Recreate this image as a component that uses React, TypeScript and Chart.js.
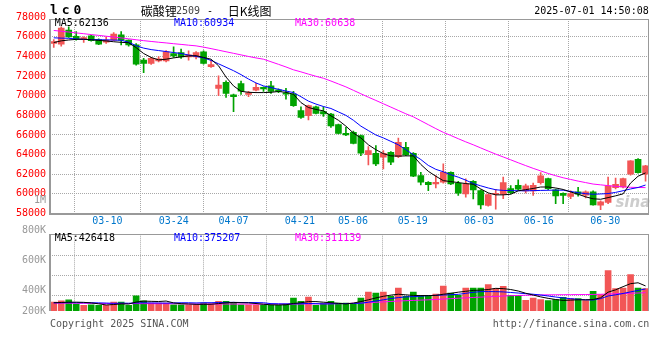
import { useEffect, useRef } from 'react';
import { Chart, registerables } from 'chart.js';

Chart.register(...registerables);

// ---------------- DATA ----------------
const dates = [
  '03-05','03-06','03-07','03-10','03-11','03-12','03-13','03-14','03-17','03-18',
  '03-19','03-20','03-21','03-24','03-25','03-26','03-27','03-28','03-31','04-01',
  '04-02','04-03','04-07','04-08','04-09','04-10','04-11','04-14','04-15','04-16',
  '04-17','04-18','04-21','04-22','04-23','04-24','04-25','04-28','04-29','04-30',
  '05-06','05-07','05-08','05-09','05-12','05-13','05-14','05-15','05-16','05-19',
  '05-20','05-21','05-22','05-23','05-26','05-27','05-28','05-29','05-30','06-03',
  '06-04','06-05','06-06','06-09','06-10','06-11','06-12','06-13','06-16','06-17',
  '06-18','06-19','06-20','06-23','06-24','06-25','06-26','06-27','06-30','07-01',
];

const opens = [
  75320, 75250, 76680, 76060, 75730, 76100, 75730, 75460, 75660, 76200,
  75660, 75180, 73620, 73280, 73550, 73550, 74300, 74400, 73960, 73960,
  74475, 72950, 70746, 71356, 70102, 71240, 70140, 70576, 70850, 71017,
  70610, 70305, 70169, 68475, 67966, 68881, 68373, 68136, 67050, 66169,
  66271, 65932, 63999, 64135, 63728, 64237, 63796, 64745, 64135, 61864,
  61186, 61016, 61186, 62203, 61084, 59999, 61287, 60338, 58813, 59965,
  59965, 60542, 60881, 60304, 60304, 61152, 61559, 60406, 60067, 59728,
  60203, 59864, 60203, 58847, 59118, 60644, 60712, 62000, 63525, 62000,
];
const highs = [
  75730, 77020, 77020, 76540, 76000, 76150, 75800, 76000, 76440, 76540,
  75700, 75320, 73800, 73900, 74000, 74600, 74980, 74740, 74570, 74500,
  74575, 73600, 72034, 71525, 70169, 71480, 70440, 71254, 70900, 71457,
  70700, 70746, 70441, 68881, 69050, 68950, 68881, 68200, 67100, 66780,
  66400, 66000, 64813, 64915, 64406, 64300, 65694, 65254, 64200, 62203,
  61250, 61864, 63050, 62250, 61287, 61525, 61350, 60400, 60000, 60474,
  61700, 60850, 61424, 61000, 61100, 62160, 61600, 60500, 60100, 60300,
  60678, 60300, 60300, 59300, 61700, 61600, 61600, 63400, 63600, 62900,
];
const lows = [
  74920, 75050, 75930, 75650, 75420, 75550, 75200, 75320, 75600, 75180,
  75050, 73110, 72360, 73200, 73450, 73450, 73900, 73800, 73620, 73750,
  73220, 72880, 70000, 69830, 68373, 70120, 69900, 70500, 70440, 70237,
  70300, 69661, 68900, 67695, 67525, 68150, 67898, 66780, 66100, 65932,
  65100, 63898, 62948, 62881, 62542, 62982, 63700, 63900, 61750, 60915,
  60338, 60610, 61100, 60950, 59830, 59660, 59491, 58474, 58750, 58440,
  59500, 60000, 60400, 60100, 59830, 61000, 60400, 59000, 59000, 59500,
  59762, 59600, 58850, 58400, 59000, 60500, 60600, 61900, 62100, 61300,
];
const closes = [
  75520, 76880, 76000, 75800, 75930, 75600, 75250, 75660, 76270, 75660,
  75180, 73210, 73280, 73820, 73750, 74470, 74060, 73960, 74160, 74400,
  73288, 73180, 71085, 70237, 69898, 70460, 70300, 70847, 70700, 70441,
  70441, 70169, 68983, 67797, 68983, 68203, 68136, 66915, 66169, 66000,
  65152, 64135, 64406, 63050, 64135, 63220, 65254, 63966, 61796, 61186,
  60949, 61186, 62203, 61016, 60067, 61016, 60406, 58881, 59931, 60033,
  61152, 60135, 60474, 60813, 60881, 61830, 60542, 59800, 59830, 60033,
  59965, 60203, 58881, 59186, 60813, 60983, 61559, 63356, 62169, 62847,
];

const ma5 = [
  75420, 75590, 75680, 75740, 75760, 75700, 75640, 75580, 75500, 75440,
  75400, 74900, 74300, 73900, 73650, 73720, 73850, 73960, 74050, 74080,
  73900, 73720, 73050, 71900, 71000, 70450, 70350, 70320, 70320, 70350,
  70430, 70350, 70150, 69300, 68800, 68600, 68460, 67950, 67500, 66900,
  66200, 65700, 65000, 64500, 64100, 63870, 63850, 63870, 63870, 63000,
  62300, 61800, 61350, 61250, 61150, 61050, 60980, 60500, 60100, 59900,
  59900, 59960, 60310, 60430, 60550, 60700, 60700, 60600, 60450, 60200,
  59960, 59700, 59500, 59450, 59620, 59800, 60000, 61100, 61800, 62136,
];
const ma10 = [
  75900, 75870, 75850, 75780, 75740, 75720, 75700, 75690, 75670, 75650,
  75450, 75100, 74850, 74700, 74600, 74500, 74400, 74300, 74150, 74000,
  73850, 73600, 73250, 72900, 72550, 72150, 71700, 71300, 71000, 70830,
  70650, 70480, 70320, 69900, 69450, 69150, 68900, 68700, 68350, 68000,
  67500, 66900, 66450, 66000, 65700, 65350, 65000, 64500, 64000, 63500,
  62900, 62500, 62250, 61950, 61700, 61400, 61050, 60820, 60600, 60420,
  60350, 60330, 60320, 60310, 60330, 60350, 60370, 60380, 60370, 60250,
  60120, 60020, 59960, 59990, 60030, 60150, 60320, 60500, 60650, 60900,
];
const ma30 = [
  76650, 76570, 76490, 76400, 76320, 76230, 76150, 76060, 75980, 75890,
  75800, 75700, 75610, 75530, 75450, 75380, 75300, 75230, 75150, 75080,
  74950, 74800, 74640, 74480, 74320, 74160, 74000, 73850, 73720, 73460,
  73200, 72930, 72640, 72430, 72200, 71980, 71780, 71500, 71200, 70900,
  70550, 70200, 69850, 69520, 69180, 68840, 68500, 68160, 67850, 67450,
  67050, 66650, 66270, 65950, 65620, 65300, 65000, 64680, 64360, 64050,
  63760, 63470, 63170, 62880, 62600, 62340, 62080, 61850, 61640, 61470,
  61300, 61150, 61000, 60920, 60840, 60770, 60710, 60670, 60650, 60638,
];

const volumes = [
  153000, 175000, 192000, 119000, 97000, 107000, 97000, 97000, 153000, 153000,
  97000, 260000, 175000, 136000, 136000, 136000, 107000, 107000, 107000, 107000,
  136000, 120000, 165000, 165000, 148000, 107000, 107000, 107000, 107000, 97000,
  97000, 119000, 221000, 165000, 238000, 97000, 136000, 165000, 136000, 136000,
  119000, 221000, 323000, 306000, 323000, 249000, 391000, 249000, 323000, 266000,
  266000, 289000, 425000, 306000, 266000, 391000, 391000, 391000, 448000, 380000,
  419000, 266000, 266000, 181000, 221000, 193000, 176000, 193000, 232000, 210000,
  210000, 176000, 334000, 278000, 686000, 380000, 391000, 618000, 391000, 380000,
];
const volMa5 = [
  140000, 145000, 150000, 150000, 147000, 138000, 122000, 103000, 110000, 121000,
  119000, 152000, 168000, 164000, 161000, 169000, 138000, 124000, 119000, 113000,
  113000, 115000, 126000, 138000, 146000, 140000, 138000, 127000, 115000, 105000,
  103000, 105000, 128000, 140000, 160000, 160000, 150000, 140000, 130000, 120000,
  135000, 160000, 190000, 222000, 250000, 270000, 285000, 275000, 265000, 262000,
  262000, 265000, 285000, 300000, 320000, 335000, 350000, 355000, 365000, 385000,
  380000, 365000, 340000, 302000, 271000, 240000, 215000, 195000, 180000, 185000,
  190000, 190000, 195000, 225000, 320000, 360000, 414000, 465000, 480000, 426418,
];
const volMa10 = [
  140000, 140000, 142000, 140000, 140000, 140000, 138000, 135000, 130000, 134000,
  132000, 137000, 139000, 137000, 136000, 134000, 136000, 140000, 140000, 137000,
  141000, 141000, 144000, 146000, 147000, 144000, 144000, 143000, 140000, 125000,
  122000, 120000, 122000, 124000, 128000, 125000, 120000, 122000, 125000, 127000,
  128000, 132000, 150000, 170000, 190000, 212000, 228000, 240000, 244000, 252000,
  261000, 266000, 272000, 277000, 283000, 300000, 318000, 329000, 330000, 329000,
  325000, 315000, 305000, 295000, 285000, 272000, 255000, 238000, 222000, 210000,
  198000, 190000, 187000, 210000, 255000, 275000, 298000, 325000, 350000, 375207,
];
const volMa30 = [
  135000, 134000, 133000, 132000, 131000, 130000, 129000, 128000, 128000, 127000,
  126000, 126000, 125000, 125000, 124000, 124000, 123000, 122000, 121000, 120000,
  120000, 119000, 119000, 119000, 118000, 118000, 118000, 117000, 117000, 117000,
  117000, 117000, 118000, 119000, 120000, 121000, 122000, 123000, 125000, 128000,
  131000, 136000, 142000, 148000, 155000, 162000, 170000, 175000, 180000, 185000,
  190000, 196000, 203000, 210000, 217000, 223000, 230000, 236000, 242000, 247000,
  255000, 260000, 264000, 268000, 271000, 273000, 275000, 276000, 277000, 278000,
  279000, 280000, 282000, 284000, 289000, 293000, 297000, 302000, 306000, 311139,
];

const priceTicks = [58000, 60000, 62000, 64000, 66000, 68000, 70000, 72000, 74000, 76000, 78000];
const volGridValues = [267000, 607000, 947000];
const volTickLabels = ['1M', '800K', '600K', '400K', '200K'];
const xLabelDates = ['03-10', '03-24', '04-07', '04-21', '05-06', '05-19', '06-03', '06-16', '06-30'];
const priceLegend = ['MA5:62136', 'MA10:60934', 'MA30:60638'];
const volLegend = ['MA5:426418', 'MA10:375207', 'MA30:311139'];
const titleText = ['碳酸锂', '2509', '-', '日K线图'];
const symbolText = 'lc0';
const timeText = '2025-07-01 14:50:08';
const footerLeft = 'Copyright 2025 SINA.COM';
const footerRight = 'http://finance.sina.com.cn';

// ---------------- STYLE ----------------
const RED = '#f25656';
const GREEN = '#00a300';
const GRID = '#a8a8a8';
const BOX = '#999999';
const MONO = '"DejaVu Sans Mono", monospace';
const LEGEND_COLORS = ['#000000', '#0000ff', '#ff00ff'];
const LEGEND_DX = [4.7, 124, 245];
const TRANSPARENT = 'rgba(0,0,0,0)';

const candleColors = closes.map((c, i) => (c >= opens[i] ? RED : GREEN));
const gridIdx = xLabelDates.slice(0, -1).map((d) => dates.indexOf(d));

function xScales(): any {
  return {
    x: { type: 'category', display: false, offset: true },
    xg: {
      type: 'linear',
      position: 'bottom',
      min: 0,
      max: dates.length - 1,
      afterBuildTicks: (s: any) => {
        s.ticks = gridIdx.map((v) => ({ value: v }));
      },
      afterFit: (s: any) => {
        s.height = 0;
      },
      ticks: { display: false },
      grid: { color: GRID, lineWidth: 1, drawTicks: false },
      border: { display: false, dash: [1, 1] },
    },
  };
}

function lineDs(label: string, data: number[], color: string): any {
  return {
    type: 'line',
    label,
    data,
    borderColor: color,
    backgroundColor: color,
    borderWidth: 1,
    pointRadius: 0,
    tension: 0,
    order: 0,
    xAxisID: 'x',
    yAxisID: 'y',
  };
}

function drawLegend(ctx: any, left: number, y: number, texts: string[]) {
  ctx.font = `10px ${MONO}`;
  ctx.textBaseline = 'middle';
  ctx.textAlign = 'left';
  texts.forEach((t, k) => {
    ctx.fillStyle = LEGEND_COLORS[k];
    ctx.fillText(t, left + LEGEND_DX[k], y);
  });
}

const pricePlugin = {
  id: 'priceDecor',
  beforeDatasetsDraw(chart: any) {
    const { ctx, chartArea: a } = chart;
    ctx.save();
    ctx.font = `italic bold 15px "DejaVu Sans", sans-serif`;
    ctx.fillStyle = '#cdcdcd';
    ctx.textAlign = 'right';
    ctx.textBaseline = 'alphabetic';
    ctx.fillText('sina', a.right + 1, a.bottom - 7);
    ctx.restore();
  },
  afterDraw(chart: any) {
    const { ctx, chartArea: a } = chart;
    const top = Math.round(a.top);
    const bottom = Math.round(a.bottom);
    const left = Math.round(a.left);
    const right = Math.round(a.right);
    ctx.save();
    ctx.fillStyle = BOX;
    ctx.fillRect(left - 1, top, right - left + 1, 1);
    ctx.fillRect(right - 1, top, 1, bottom - top);
    ctx.fillRect(left - 1, top, 2, bottom - top + 1);
    ctx.fillRect(left - 1, bottom - 1, right - left + 1, 2);

    drawLegend(ctx, a.left, a.top + 4.7, priceLegend);

    // x labels
    const xg = chart.scales.xg;
    ctx.font = `10px ${MONO}`;
    ctx.fillStyle = '#0077cc';
    ctx.textAlign = 'center';
    ctx.textBaseline = 'middle';
    xLabelDates.forEach((d) => {
      const w = ctx.measureText(d).width;
      let px = xg.getPixelForValue(dates.indexOf(d));
      px = Math.min(px, a.right - w / 2);
      ctx.fillText(d, px, a.bottom + 8.2);
    });

    // header
    ctx.fillStyle = '#000';
    ctx.textAlign = 'left';
    ctx.font = `bold 13px ${MONO}`;
    (ctx as any).letterSpacing = '3.9px';
    ctx.fillText(symbolText, 50, 11);
    (ctx as any).letterSpacing = '0px';
    ctx.font = `12px "Noto Sans CJK SC"`;
    ctx.fillText(titleText[0], 140.7, 11);
    ctx.font = `10px ${MONO}`;
    ctx.fillStyle = '#444';
    ctx.fillText(titleText[1], 176, 11);
    ctx.fillStyle = '#000';
    ctx.fillText(titleText[2], 207, 11);
    ctx.font = `12px "Noto Sans CJK SC"`;
    ctx.fillText(titleText[3], 227.7, 11);
    ctx.font = `10px ${MONO}`;
    ctx.textAlign = 'right';
    ctx.fillText(timeText, 648.7, 11.7);

    // footer
    ctx.fillStyle = '#555';
    ctx.textAlign = 'left';
    ctx.fillText(footerLeft, 50, 324);
    ctx.textAlign = 'right';
    ctx.fillText(footerRight, 649.3, 324);
    ctx.restore();
  },
};

const volPlugin = {
  id: 'volDecor',
  afterDraw(chart: any) {
    const { ctx, chartArea: a } = chart;
    const top = Math.round(a.top);
    const bottom = Math.round(a.bottom);
    const left = Math.round(a.left);
    const right = Math.round(a.right);
    ctx.save();
    ctx.fillStyle = BOX;
    ctx.fillRect(left - 1, top, right - left + 1, 1);
    ctx.fillRect(right - 1, top, 1, bottom - top);
    ctx.fillRect(left - 1, top, 2, bottom - top);

    drawLegend(ctx, a.left, a.top + 4, volLegend);

    // axis labels (Sina places them in its own fixed slots)
    const slots = [a.top - 34.3, a.top - 4.3, a.top + 25.7, a.top + 56.4, a.bottom];
    ctx.font = `10px ${MONO}`;
    ctx.fillStyle = '#999';
    ctx.textAlign = 'right';
    ctx.textBaseline = 'middle';
    volTickLabels.forEach((t, k) => ctx.fillText(t, a.left - 4, slots[k]));
    ctx.restore();
  },
};

function priceConfig(): any {
  return {
    type: 'bar',
    data: {
      labels: dates,
      datasets: [
        lineDs('MA5', ma5, '#000000'),
        lineDs('MA10', ma10, '#0000ff'),
        lineDs('MA30', ma30, '#ff00ff'),
        {
          type: 'bar',
          label: 'body',
          data: opens.map((o, i) => [o, closes[i]]),
          backgroundColor: candleColors,
          borderWidth: 0,
          barThickness: 6,
          minBarLength: 1,
          grouped: false,
          order: 1,
          xAxisID: 'x',
          yAxisID: 'y',
        },
        {
          type: 'bar',
          label: 'wick',
          data: lows.map((l, i) => [l, highs[i]]),
          backgroundColor: candleColors,
          borderWidth: 0,
          barThickness: 1,
          grouped: false,
          order: 2,
          xAxisID: 'x',
          yAxisID: 'y',
        },
      ],
    },
    options: {
      responsive: false,
      animation: false,
      events: [],
      layout: { padding: { left: 0, top: 19, right: 10.7, bottom: 146.5 } },
      plugins: { legend: { display: false }, tooltip: { enabled: false } },
      scales: {
        ...xScales(),
        y: {
          type: 'linear',
          position: 'left',
          min: 58000,
          max: 77817,
          afterBuildTicks: (s: any) => {
            s.ticks = priceTicks.map((v) => ({ value: v }));
          },
          afterFit: (s: any) => {
            s.width = 50;
          },
          ticks: {
            color: '#ff0000',
            font: { family: MONO, size: 10 },
            padding: 4,
            autoSkip: false,
            callback: (v: any) => String(v),
          },
          grid: {
            color: (c: any) =>
              c.tick && c.tick.value > 58000 && c.tick.value < 77817 ? GRID : TRANSPARENT,
            drawTicks: false,
          },
          border: { display: false, dash: [1, 1] },
        },
      },
    },
    plugins: [pricePlugin],
  };
}

function volConfig(): any {
  return {
    type: 'bar',
    data: {
      labels: dates,
      datasets: [
        lineDs('MA5', volMa5, '#000000'),
        lineDs('MA10', volMa10, '#0000ff'),
        lineDs('MA30', volMa30, '#ff00ff'),
        {
          type: 'bar',
          label: 'volume',
          data: volumes,
          backgroundColor: candleColors,
          borderWidth: 0,
          barThickness: 6,
          grouped: false,
          order: 1,
          xAxisID: 'x',
          yAxisID: 'y',
        },
      ],
    },
    options: {
      responsive: false,
      animation: false,
      events: [],
      layout: { padding: { left: 0, top: 234.3, right: 10.7, bottom: 49 } },
      plugins: { legend: { display: false }, tooltip: { enabled: false } },
      scales: {
        ...xScales(),
        y: {
          type: 'linear',
          position: 'left',
          min: 0,
          max: 1304000,
          afterBuildTicks: (s: any) => {
            s.ticks = volGridValues.map((v) => ({ value: v }));
          },
          afterFit: (s: any) => {
            s.width = 50;
          },
          ticks: { display: false },
          grid: { color: GRID, drawTicks: false },
          border: { display: false, dash: [1, 1] },
        },
      },
    },
    plugins: [volPlugin],
  };
}

export default function App() {
  const priceRef = useRef<HTMLCanvasElement>(null);
  const volRef = useRef<HTMLCanvasElement>(null);

  useEffect(() => {
    const pc = new Chart(priceRef.current as HTMLCanvasElement, priceConfig());
    const vc = new Chart(volRef.current as HTMLCanvasElement, volConfig());
    return () => {
      pc.destroy();
      vc.destroy();
    };
  }, []);

  return (
    <div style={{ position: 'fixed', left: 0, top: 0, width: 660, height: 360, background: '#fff' }}>
      <canvas ref={priceRef} width={660} height={360} style={{ position: 'absolute', left: 0, top: 0 }} />
      <canvas ref={volRef} width={660} height={360} style={{ position: 'absolute', left: 0, top: 0 }} />
    </div>
  );
}
